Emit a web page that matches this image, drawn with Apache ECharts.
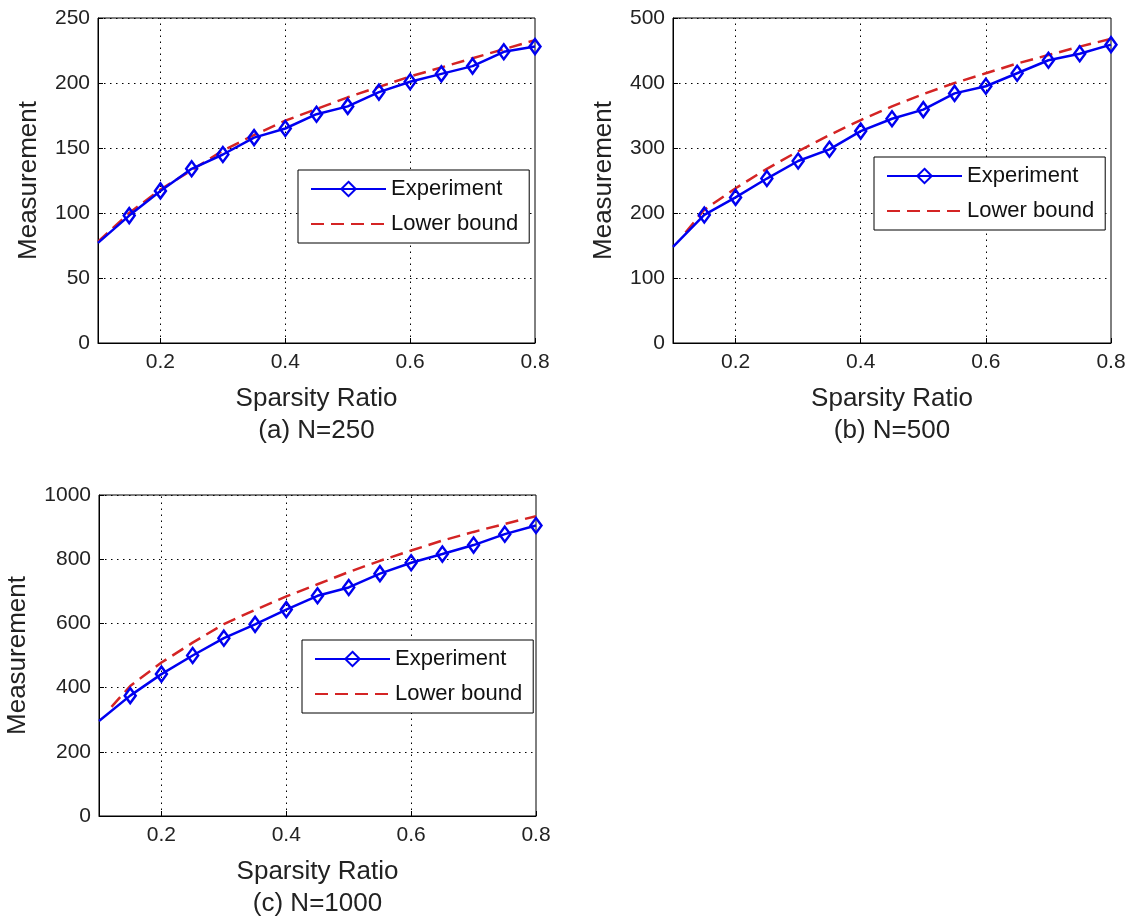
<!DOCTYPE html>
<html><head><meta charset="utf-8">
<script src="https://cdn.jsdelivr.net/npm/echarts@6/dist/echarts.min.js"></script>
<style>html,body{margin:0;padding:0;background:#fff}#c{width:1130px;height:921px}</style>
</head><body><div id="c"></div>
<script>
// ---- data ----
const xExp  = [0.1, 0.15, 0.2, 0.25, 0.3, 0.35, 0.4, 0.45, 0.5, 0.55, 0.6, 0.65, 0.7, 0.75, 0.8];
const xLbA  = [0.1, 0.15, 0.2, 0.25, 0.3, 0.35, 0.4, 0.45, 0.5, 0.55, 0.6, 0.65, 0.7, 0.75, 0.8];
const xLbBC = [0.12, 0.15, 0.2, 0.25, 0.3, 0.35, 0.4, 0.45, 0.5, 0.55, 0.6, 0.65, 0.7, 0.75, 0.8];

const expA = [77, 98, 117, 134, 145, 158, 165, 176, 182, 193, 201, 207, 213, 224, 228];
const lbA  = [78, 100, 118, 133, 148, 160, 171, 180, 189, 197, 205, 212, 219, 226, 233];

const expB = [148, 197, 224, 253, 280, 298, 326, 345, 359, 384, 395, 415, 435, 445, 459];
const lbB  = [170, 205, 238, 268, 295, 320, 343, 364, 383, 400, 415, 430, 443, 456, 468];

const expC = [296, 375, 442, 500, 554, 597, 643, 686, 712, 755, 789, 816, 844, 878, 905];
const lbC  = [340, 405, 478, 540, 598, 642, 684, 722, 760, 795, 827, 858, 885, 910, 934];

const xTickLabels = [0.2, 0.4, 0.6, 0.8];
const xGridLines  = [0.2, 0.4, 0.6];
const yMaxes  = [250, 500, 1000];
const ySteps  = [50, 100, 200];
const panelCaptions = ['(a) N=250', '(b) N=500', '(c) N=1000'];
const seriesNames = ['Experiment', 'Lower bound'];
const xAxisTitle = 'Sparsity Ratio';
const yAxisTitle = 'Measurement';

// ---- layout / style ----
const FONT = 'Liberation Sans, Arial, sans-serif';
const grids = [
  {left: 98,  top: 18,  width: 437, height: 325},
  {left: 673, top: 18,  width: 438, height: 325},
  {left: 99,  top: 495, width: 437, height: 327}
];
const yNameGaps = [56, 56, 68];
const legendPos = [
  {left: 298, top: 170},
  {left: 874, top: 157},
  {left: 302, top: 640}
];
const dotted = [1.5, 4.5];
const BLUE = '#0000f0';
const RED = '#d42424';

const chart = echarts.init(document.getElementById('c'), null, {renderer: 'canvas'});

const expData = [expA, expB, expC];
const lbData = [lbA, lbB, lbC];
const lbXs = [xLbA, xLbBC, xLbBC];

const option = {
  backgroundColor: '#fff',
  animation: false,
  grid: grids.map(g => Object.assign({show: true, borderColor: '#000', borderWidth: 1, backgroundColor: '#fff'}, g)),
  xAxis: grids.map((g, i) => ({
    type: 'value', gridIndex: i, min: 0.1, max: 0.8, interval: 0.1,
    name: xAxisTitle + '\n' + panelCaptions[i], nameLocation: 'middle', nameGap: 40,
    nameTextStyle: {fontFamily: FONT, fontSize: 26, lineHeight: 32, color: '#222'},
    axisLine: {show: true, lineStyle: {color: '#000', width: 1}},
    axisTick: {show: true, inside: true, length: 5, lineStyle: {color: '#000'}, customValues: xTickLabels},
    axisLabel: {fontFamily: FONT, fontSize: 21, color: '#222', margin: 9, customValues: xTickLabels,
      formatter: v => (Math.round(v * 10) % 2 === 0 ? v.toFixed(1) : '')},
    splitLine: {show: false}
  })),
  yAxis: grids.map((g, i) => ({
    type: 'value', gridIndex: i, min: 0, max: yMaxes[i], interval: ySteps[i],
    name: yAxisTitle, nameLocation: 'middle', nameGap: yNameGaps[i], nameRotate: 90,
    nameTextStyle: {fontFamily: FONT, fontSize: 26, color: '#222'},
    axisLine: {show: true, lineStyle: {color: '#000', width: 1}},
    axisTick: {show: true, inside: true, length: 5, lineStyle: {color: '#000'}},
    axisLabel: {fontFamily: FONT, fontSize: 21, color: '#222', margin: 8, formatter: v => String(v)},
    splitLine: {show: true, lineStyle: {color: '#000', width: 1, type: dotted}}
  })),
  legend: legendPos.map(p => ({
    left: p.left, top: p.top, orient: 'vertical', data: seriesNames,
    borderColor: '#000', borderWidth: 1, borderRadius: 0, backgroundColor: '#fff',
    padding: [8, 11, 8, 12], itemWidth: 75, itemHeight: 18, itemGap: 13, itemTextGap: 4,
    textStyle: {fontFamily: FONT, fontSize: 22, lineHeight: 22, color: '#111'},
    selectedMode: false
  })),
  series: []
};

for (let i = 0; i < 3; i++) {
  option.series.push({
    name: seriesNames[1], type: 'line', xAxisIndex: i, yAxisIndex: i,
    data: lbXs[i].map((x, k) => [x, lbData[i][k]]),
    showSymbol: false, symbol: 'none', smooth: false,
    lineStyle: {color: RED, width: 2.5, type: [13, 7]},
    itemStyle: {color: 'rgba(0,0,0,0)', borderWidth: 0}, z: 2,
    markLine: {
      silent: true, symbol: 'none', z: 1, animation: false,
      label: {show: false},
      lineStyle: {color: '#000', width: 1, type: dotted},
      data: xGridLines.map(v => ({xAxis: v}))
    }
  });
  option.series.push({
    name: seriesNames[0], type: 'line', xAxisIndex: i, yAxisIndex: i,
    data: xExp.map((x, k) => k === 0 ? {value: [x, expData[i][k]], symbol: 'none'} : [x, expData[i][k]]),
    symbol: 'diamond', symbolSize: [11, 15], showSymbol: true, showAllSymbol: true,
    lineStyle: {color: BLUE, width: 2.5},
    itemStyle: {color: 'rgba(255,255,255,0)', borderColor: BLUE, borderWidth: 2.5}, z: 3
  });
}

chart.setOption(option);
</script></body></html>
